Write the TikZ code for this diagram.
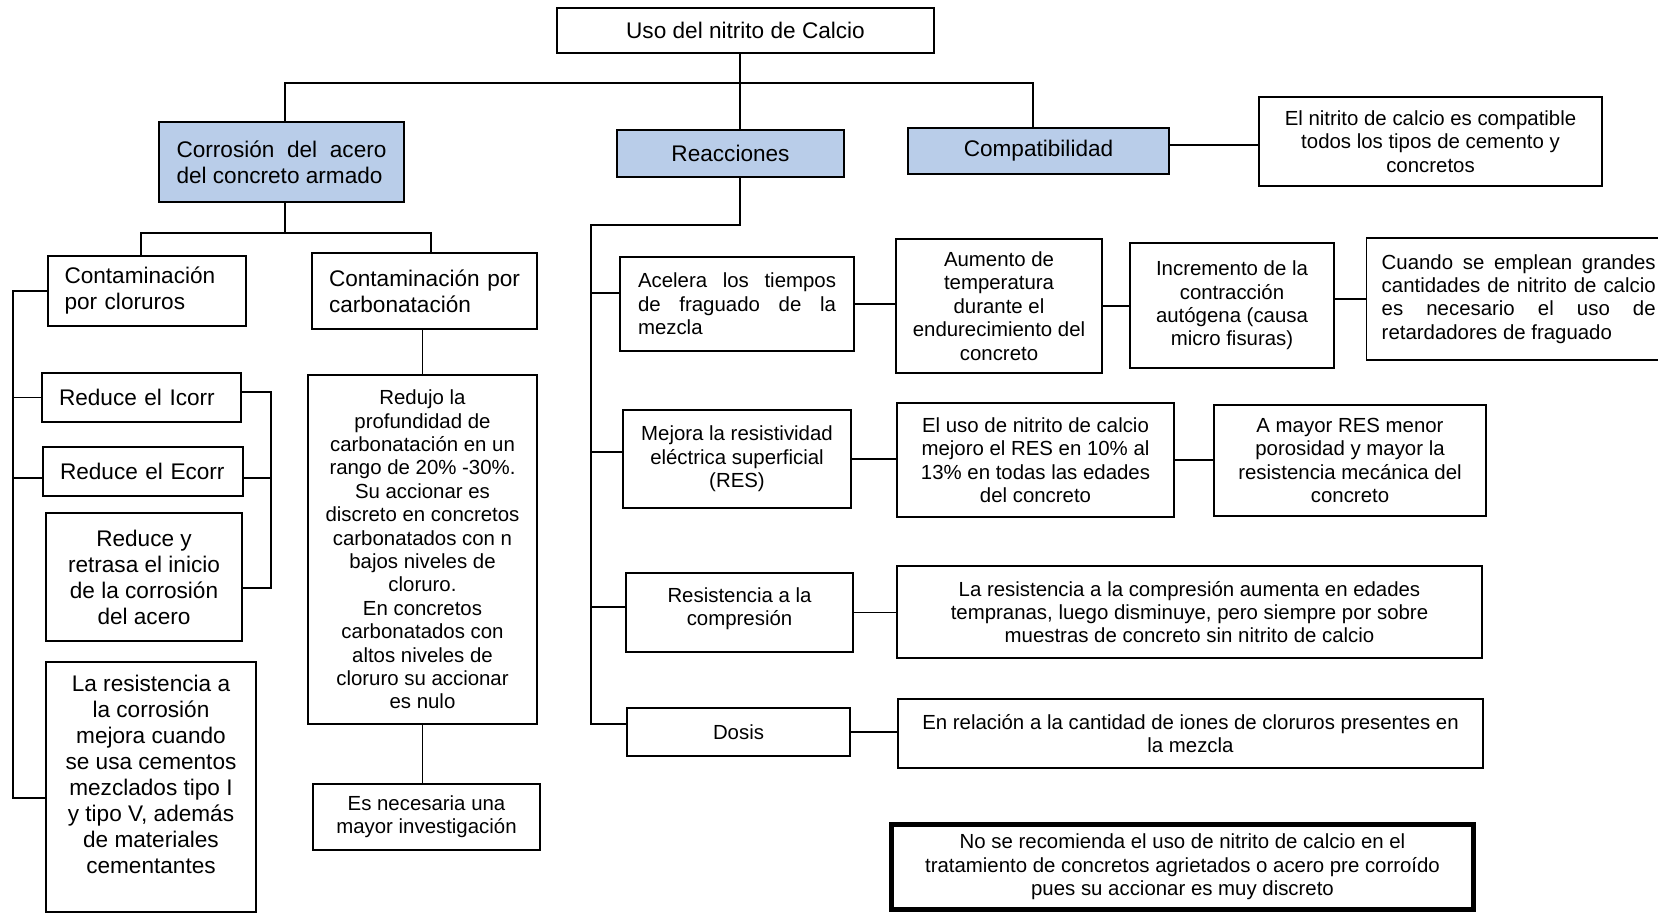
\documentclass[tikz,border=0pt]{standalone}
\usepackage{fontspec}
\setmainfont{Liberation Sans}
\usepackage{xcolor}
\usepackage{tikz}
\definecolor{headblue}{RGB}{185,205,233}
\pgfdeclarelayer{nodelayer}
\pgfdeclarelayer{edgelayer}
\pgfsetlayers{edgelayer,nodelayer,main}
\newcommand{\letragrande}{\fontsize{11.3}{13}\selectfont}
\newcommand{\letrachica}{\fontsize{10.2}{11.7}\selectfont}
\hyphenpenalty=10000
\exhyphenpenalty=10000
\tolerance=10000
\tikzstyle{plain box}=[fill=white, draw=black, shape=rectangle, line width=0.7pt, inner sep=0pt, align=center, font=\letrachica]
\tikzstyle{big box}=[plain box, font=\letragrande]
\tikzstyle{head box}=[plain box, fill=headblue, font=\letragrande]
\tikzstyle{thick box}=[plain box, line width=2.3pt]
\tikzstyle{none}=[fill=none, draw=none, shape=circle, scale=0]
\tikzstyle{link}=[draw=black, line width=0.7pt]

\begin{document}
\begin{tikzpicture}[x=0.5pt, y=-0.5pt]
	\useasboundingbox (0,0) rectangle (1658,916);
	\begin{pgfonlayer}{nodelayer}
		\node [style=big box, minimum width=188.5pt, minimum height=22.5pt] (0) at (745.5, 30.5) {Uso del nitrito de Calcio};
		\node [style=head box, minimum width=122.5pt, minimum height=40pt, text width=105pt, align=justify] (1) at (281.5, 162) {Corrosión del acero\break del concreto armado};
		\node [style=head box, minimum width=113.5pt, minimum height=23.5pt] (2) at (730.5, 153.5) {Reacciones};
		\node [style=head box, minimum width=130.5pt, minimum height=23pt] (3) at (1038.5, 151) {Compatibilidad};
		\node [style=plain box, minimum width=171.5pt, minimum height=44.5pt] (4) at (1430.5, 141.5) {El nitrito de calcio es compatible\\todos los tipos de cemento y\\concretos};
		\node [style=big box, minimum width=99pt, minimum height=35pt, text width=82.5pt, align=left] (5) at (147, 291) {Contaminación\\por cloruros};
		\node [style=big box, minimum width=112.5pt, minimum height=38pt, text width=95.5pt, align=left] (6) at (424.5, 291) {Contaminación por\\carbonatación};
		\node [style=plain box, minimum width=114.5pt, minimum height=174.5pt] (7) at (422.5, 549.5) {Redujo la\\profundidad de\\carbonatación en un\\rango de 20\% -30\%.\\Su accionar es\\discreto en concretos\\carbonatados con n\\bajos niveles de\\cloruro.\\En concretos\\carbonatados con\\altos niveles de\\cloruro su accionar\\es nulo};
		\node [style=plain box, minimum width=113.5pt, minimum height=33pt] (8) at (426.5, 817) {Es necesaria una\\mayor investigación};
		\node [style=big box, minimum width=99.5pt, minimum height=24.5pt, text width=82.5pt, align=left] (9) at (141.5, 397.5) {Reduce el Icorr};
		\node [style=big box, minimum width=100pt, minimum height=24.5pt, text width=83pt, align=left] (10) at (143, 471.5) {Reduce el Ecorr};
		\node [style=big box, minimum width=98pt, minimum height=64pt] (11) at (144, 577) {Reduce y\\retrasa el inicio\\de la corrosión\\del acero};
		\node [style=big box, minimum width=105pt, minimum height=125pt] (12) at (151, 787) {La resistencia a\\la corrosión\\mejora cuando\\se usa cementos\\mezclados tipo I\\y tipo V, además\\de materiales\\cementantes\\\mbox{}};
		\node [style=plain box, minimum width=117pt, minimum height=47pt, text width=99pt, align=justify] (13) at (737, 304) {Acelera los tiempos\break de fraguado de la\break mezcla};
		\node [style=plain box, minimum width=103pt, minimum height=67pt] (14) at (999, 306) {Aumento de\\temperatura\\durante el\\endurecimiento del\\concreto};
		\node [style=plain box, minimum width=102pt, minimum height=62.5pt] (15) at (1232, 305.5) {Incremento de la\\contracción\\autógena (causa\\micro fisuras)};
		\node [style=plain box, anchor=west, inner xsep=7.5pt, minimum height=61pt, text width=137pt, align=justify] (16) at (1366, 299) {Cuando se emplean grandes\break cantidades de nitrito de calcio\break es necesario el uso de\break retardadores de fraguado};
		\node [style=plain box, minimum width=114pt, minimum height=49pt] (17) at (737, 459) {Mejora la resistividad\\eléctrica superficial\\(RES)};
		\node [style=plain box, minimum width=138.5pt, minimum height=57pt] (18) at (1035.5, 460) {El uso de nitrito de calcio\\mejoro el RES en 10\% al\\13\% en todas las edades\\del concreto};
		\node [style=plain box, minimum width=136pt, minimum height=55.5pt] (19) at (1350, 460.5) {A mayor RES menor\\porosidad y mayor la\\resistencia mecánica del\\concreto};
		\node [style=plain box, minimum width=113.5pt, minimum height=39.5pt] (20) at (739.5, 612.5) {Resistencia a la\\compresión\\[-6pt]\mbox{}};
		\node [style=plain box, minimum width=292.5pt, minimum height=46pt] (21) at (1189.5, 612) {La resistencia a la compresión aumenta en edades\\tempranas, luego disminuye, pero siempre por sobre\\muestras de concreto sin nitrito de calcio};
		\node [style=plain box, minimum width=111.5pt, minimum height=24pt] (22) at (738.5, 732) {Dosis};
		\node [style=plain box, minimum width=292.5pt, minimum height=34.5pt] (23) at (1190.5, 733.5) {En relación a la cantidad de iones de cloruros presentes en\\la mezcla};
		\node [style=thick box, minimum width=291.2pt, minimum height=42.5pt] (24) at (1182.5, 867) {No se recomienda el uso de nitrito de calcio en el\\tratamiento de concretos agrietados o acero pre corroído\\pues su accionar es muy discreto};
		\node [style=none] (25) at (740, 83) {};
		\node [style=none] (26) at (285, 83) {};
		\node [style=none] (27) at (1033, 83) {};
		\node [style=none] (28) at (285, 233) {};
		\node [style=none] (29) at (141, 233) {};
		\node [style=none] (30) at (431, 233) {};
		\node [style=none] (31) at (13, 292) {};
		\node [style=none] (32) at (271, 392) {};
		\node [style=none] (33) at (740, 225) {};
		\node [style=none] (34) at (591, 225) {};
		\node [style=none] (35) at (46, 798) {};
		\node [style=none] (36) at (242, 588) {};
		\node [style=none] (37) at (13, 478) {};
		\node [style=none] (38) at (271, 478) {};
		\node [style=none] (39) at (591, 293) {};
		\node [style=none] (40) at (591, 452) {};
		\node [style=none] (41) at (591, 607) {};
		\node [style=none] (42) at (591, 724) {};
		\node [style=none] (43) at (1169, 145) {};
	\end{pgfonlayer}
	\begin{pgfonlayer}{edgelayer}
		\draw [style=link] (0.south -| 25.center) to (2.north -| 25.center);
		\draw [style=link] (1.north -| 26.center) -- (26.center) -- (27.center) -- (3.north -| 27.center);
		\draw [style=link] (43.center) to (43.center -| 4.west);
		\draw [style=link] (1.south -| 28.center) to (28.center);
		\draw [style=link] (5.north -| 29.center) -- (29.center) -- (30.center) -- (6.north -| 30.center);
		\draw [style=link] (7.north) to (7.north |- 6.south);
		\draw [style=link] (7.south) to (7.south |- 8.north);
		\draw [style=link] (5.west) -- (5.west -| 31.center) -- (35.center -| 31.center) -- (35.center);
		\draw [style=link] (9.west) to (9.west -| 31.center);
		\draw [style=link] (37.center) to (37.center -| 10.west);
		\draw [style=link] (32.center -| 9.east) -- (32.center) -- (36.center -| 32.center) -- (36.center);
		\draw [style=link] (38.center) to (38.center -| 10.east);
		\draw [style=link] (2.south -| 33.center) -- (33.center) -- (34.center) -- (42.center) -- (42.center -| 22.west);
		\draw [style=link] (39.center) to (39.center -| 13.west);
		\draw [style=link] (40.center) to (40.center -| 17.west);
		\draw [style=link] (41.center) to (41.center -| 20.west);
		\draw [style=link] (13.east) to (13.east -| 14.west);
		\draw [style=link] (14.east) to (14.east -| 15.west);
		\draw [style=link] (16.west -| 15.east) to (16.west);
		\draw [style=link] (17.east) to (17.east -| 18.west);
		\draw [style=link] (18.east) to (18.east -| 19.west);
		\draw [style=link] (20.east) to (20.east -| 21.west);
		\draw [style=link] (22.east) to (22.east -| 23.west);
	\end{pgfonlayer}
\end{tikzpicture}
\end{document}
